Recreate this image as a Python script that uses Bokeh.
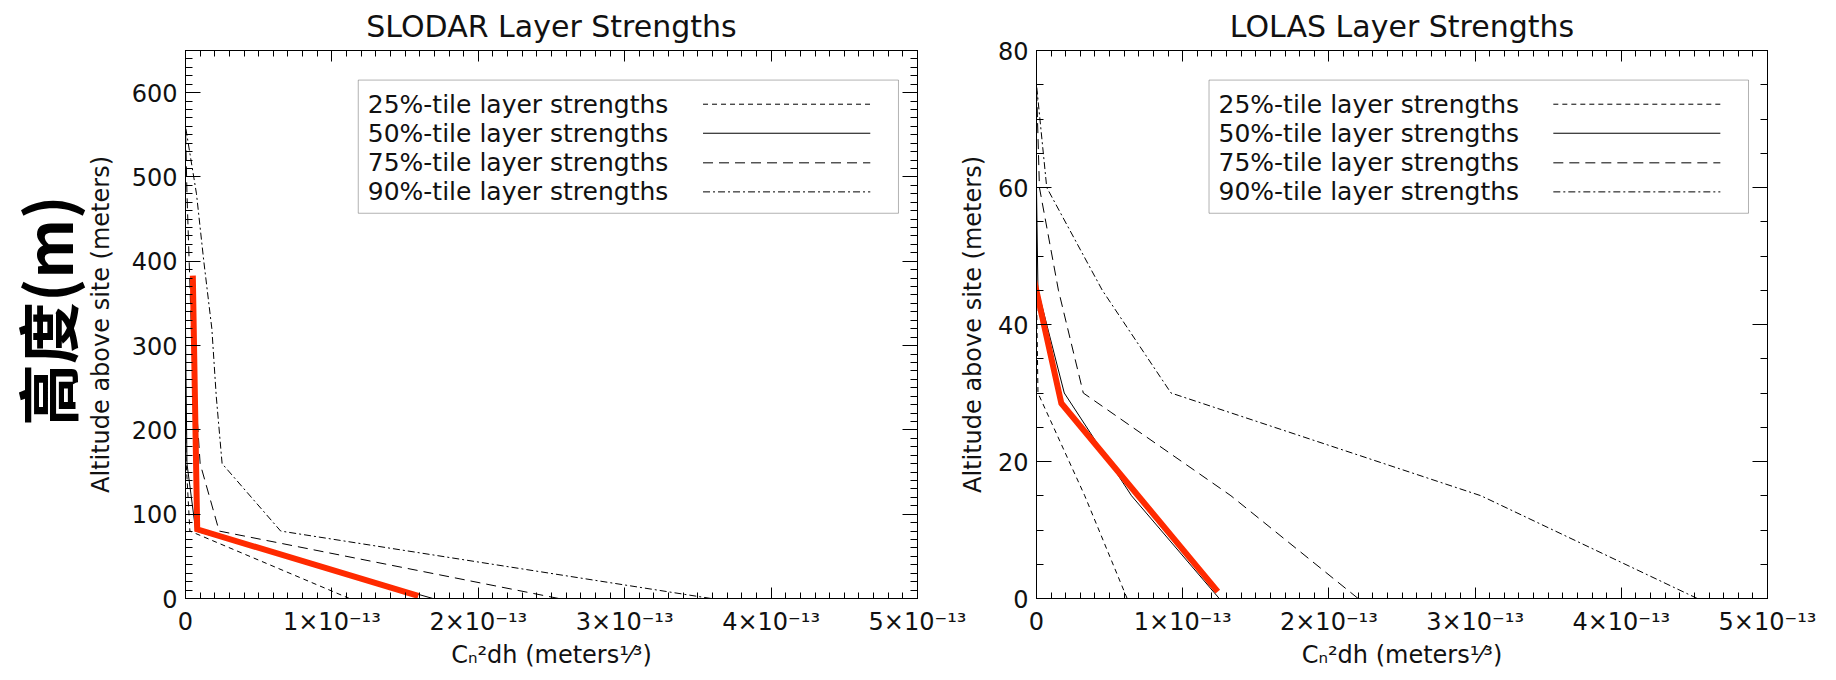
import math
from bokeh.plotting import figure
from bokeh.models import FixedTicker, LinearAxis, BoxAnnotation, Range1d
from bokeh.layouts import row
from bokeh.embed import file_html
from bokeh.resources import INLINE
from bokeh.core.properties import value

# ---------------- data (x in units of 1e-13 m^(1/3)) ----------------
slodar_alt = [0, 80, 160, 240, 320, 400, 480, 560]
slodar_p25 = [1.12, 0.03, 0.005, 0.0, 0.0, 0.0, 0.0, 0.0]
slodar_p50 = [1.69, 0.07, 0.01, 0.005, 0.0, 0.0, 0.0, 0.0]
slodar_p75 = [2.55, 0.23, 0.10, 0.07, 0.04, 0.025, 0.01, 0.0]
slodar_p90 = [3.59, 0.65, 0.25, 0.21, 0.18, 0.125, 0.075, 0.0]
slodar_hl_x = [0.05, 0.08, 1.59]
slodar_hl_y = [383, 82, 3]

lolas_alt = [0, 15, 30, 45, 60, 75]
lolas_p25 = [0.62, 0.33, 0.01, 0.0, 0.0, 0.0]
lolas_p50 = [1.25, 0.65, 0.19, 0.01, 0.0, 0.0]
lolas_p75 = [2.20, 1.33, 0.32, 0.15, 0.02, 0.0]
lolas_p90 = [4.52, 3.04, 0.92, 0.45, 0.07, 0.0]
lolas_hl_x = [-0.02, 0.17, 1.24]
lolas_hl_y = [46.8, 28.5, 1.0]

x_ticks = [0, 1, 2, 3, 4, 5]
x_tick_labels = ["0", "1×10⁻¹³", "2×10⁻¹³", "3×10⁻¹³", "4×10⁻¹³", "5×10⁻¹³"]
slodar_y_ticks = [0, 100, 200, 300, 400, 500, 600]
lolas_y_ticks = [0, 20, 40, 60, 80]

legend_labels = ["25%-tile layer strengths", "50%-tile layer strengths",
                 "75%-tile layer strengths", "90%-tile layer strengths"]
side_label = "高度(m)"

# ---------------- styles ----------------
FONT = "DejaVu Sans"
TXT = "#111111"
DASHES = ["5 4", "solid", "10 6", "7 3 2 3"]
RED = "#ff2a00"


def make_axes(p, xt, yt, ylabel_std, xtick_std, xlabel_std):
    bottom = p.xaxis[0]
    left = p.yaxis[0]
    bottom.ticker = xt
    bottom.major_label_overrides = {t: l for t, l in zip(x_ticks, x_tick_labels)}
    bottom.axis_label = "Cₙ²dh (meters¹⁄³)"
    bottom.major_label_standoff = xtick_std
    bottom.axis_label_standoff = xlabel_std
    left.ticker = yt
    left.axis_label = "Altitude above site (meters)"
    left.major_label_standoff = 8
    left.axis_label_standoff = ylabel_std
    top = LinearAxis(ticker=xt, major_label_text_font_size="0px", major_label_standoff=0,
                     major_label_text_alpha=0)
    right = LinearAxis(ticker=yt, major_label_text_font_size="0px", major_label_standoff=0,
                       major_label_text_alpha=0)
    p.add_layout(top, "above")
    p.add_layout(right, "right")
    for ax in [bottom, top]:
        ax.major_tick_in, ax.major_tick_out = 11, 0
        ax.minor_tick_in, ax.minor_tick_out = 6, 0
    for ax in [left, right]:
        ax.major_tick_in, ax.major_tick_out = 15, 0
        ax.minor_tick_in, ax.minor_tick_out = 7, 0
    for ax in [bottom, left, top, right]:
        ax.axis_line_color = "black"
        ax.major_tick_line_color = "black"
        ax.minor_tick_line_color = "black"
    for ax in [bottom, left]:
        ax.major_label_text_font = FONT
        ax.axis_label_text_font = FONT
        ax.axis_label_text_font_style = "normal"
        ax.axis_label_text_color = TXT
        ax.major_label_text_color = TXT
        ax.major_label_text_font_size = "24px"
        ax.axis_label_text_font_size = "24px"


def add_legend(p, xr, yr):
    x0, x1 = xr
    y0, y1 = yr
    fx = lambda f: x0 + f * (x1 - x0)
    fy = lambda f: y1 - f * (y1 - y0)
    p.add_layout(BoxAnnotation(left=fx(0.236), right=fx(0.974), top=fy(0.054), bottom=fy(0.297),
                               fill_color="white", fill_alpha=1.0, line_color="black",
                               line_width=1, level="underlay"))
    rows = [0.098, 0.151, 0.205, 0.258]
    for lab, dash, r in zip(legend_labels, DASHES, rows):
        yy = fy(r)
        p.text(x=[fx(0.249)], y=[yy], text=[lab], text_font=value(FONT), text_font_size="25px",
               text_baseline="middle", text_align="left", text_color=TXT)
        p.line([fx(0.707), fx(0.9355)], [yy, yy], line_color="black", line_width=1, line_dash=dash)


def make_plot(title, alt, series, hl_x, hl_y, xr, yr, yticks, yminor, width, mb_left, mb_right,
              mb_top, mb_bottom, ylabel_std, xtick_std, xlabel_std):
    p = figure(width=width, height=680, output_backend="svg", toolbar_location=None,
               x_range=Range1d(*xr), y_range=Range1d(*yr),
               min_border_left=mb_left, min_border_right=mb_right,
               min_border_top=mb_top, min_border_bottom=mb_bottom)
    p.grid.visible = False
    p.outline_line_color = "black"
    p.background_fill_color = "white"
    p.border_fill_color = None
    p.title.text = title
    p.title.text_font = FONT
    p.title.text_font_size = "30px"
    p.title.text_font_style = "normal"
    p.title.text_color = TXT
    p.title.align = "center"
    p.title.standoff = 13
    xt = FixedTicker(ticks=x_ticks, minor_ticks=[i / 10 for i in range(0, 51)])
    yt = FixedTicker(ticks=yticks, minor_ticks=yminor)
    make_axes(p, xt, yt, ylabel_std, xtick_std, xlabel_std)
    for vals, dash in zip(series, DASHES):
        p.line(vals, alt, line_color="black", line_width=1, line_dash=dash)
    p.line(hl_x, hl_y, line_color=RED, line_width=6, line_join="miter")
    add_legend(p, xr, yr)
    return p


# strip on the far left holding the big vertical annotation text
p0 = figure(width=92, height=680, output_backend="svg", toolbar_location=None,
            x_range=Range1d(0, 1), y_range=Range1d(0, 1), min_border=0)
p0.axis.visible = False
p0.grid.visible = False
p0.outline_line_color = None
p0.text(x=[0.495], y=[0.525], text=[side_label], angle=math.pi / 2,
        text_font=value("Noto Sans CJK SC"), text_font_size="62px", text_font_style="bold",
        text_color="black", text_align="center", text_baseline="middle")

p1 = make_plot("SLODAR Layer Strengths", slodar_alt,
               [slodar_p25, slodar_p50, slodar_p75, slodar_p90], slodar_hl_x, slodar_hl_y,
               (0, 5), (0, 650), slodar_y_ticks, list(range(0, 651, 10)),
               902, 102, 68, 50, 78, 14, 9, 2)
p1.margin = (0, 0, 0, -9)

p2 = make_plot("LOLAS Layer Strengths", lolas_alt,
               [lolas_p25, lolas_p50, lolas_p75, lolas_p90], lolas_hl_x, lolas_hl_y,
               (0, 5), (0, 80), lolas_y_ticks, list(range(0, 81, 5)),
               881, 80, 69, 48, 82, 8, 9, 2)
p2.margin = (0, 0, 0, -30)

layout = row(p0, p1, p2)
open("out.html", "w").write(file_html(layout, INLINE))
